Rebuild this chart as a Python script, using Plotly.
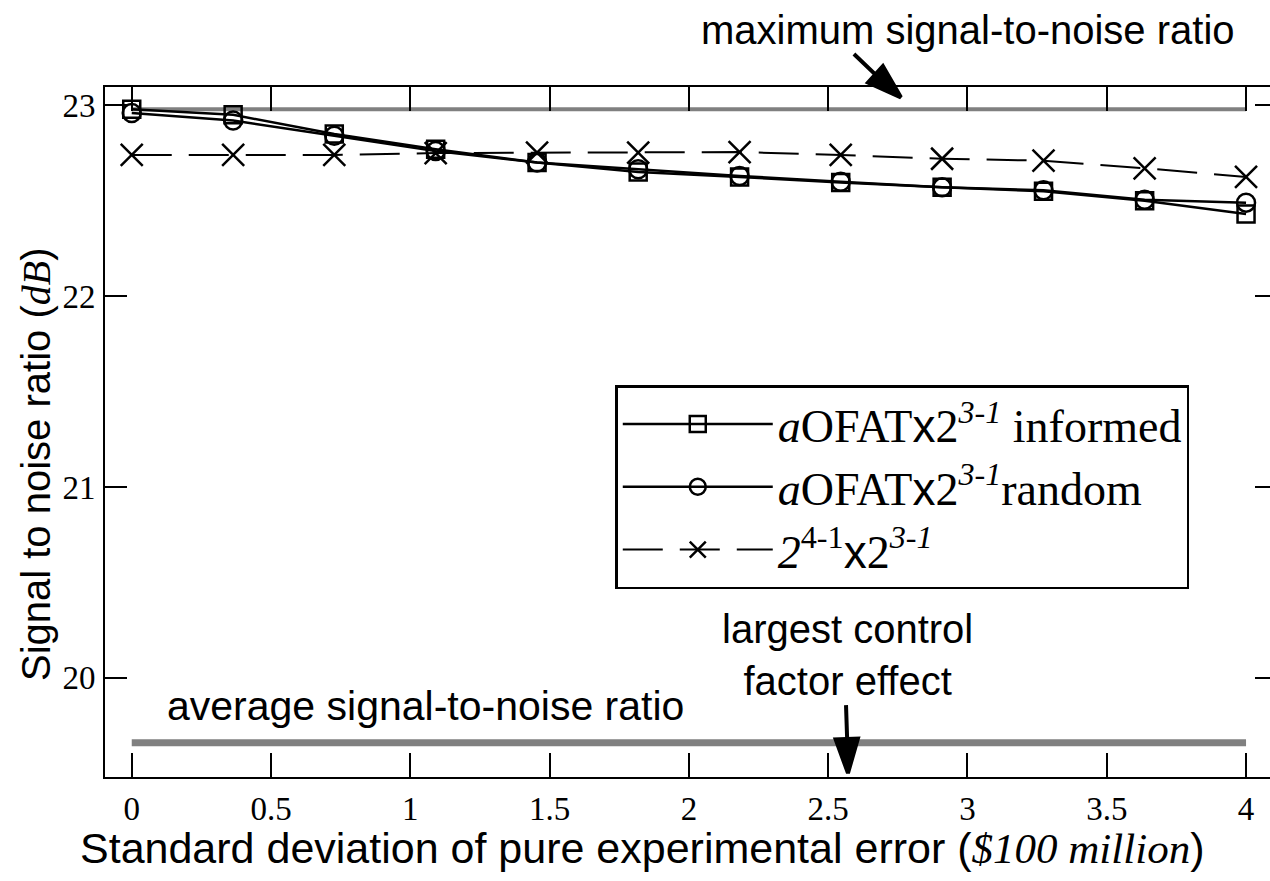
import plotly.graph_objects as go

# Pure experimental error standard deviation ($100 million)
sigma = [0, 0.364, 0.727, 1.091, 1.455, 1.818, 2.182, 2.545, 2.909, 3.273, 3.636, 4.0]

# Signal-to-noise ratio (dB) per strategy
snr_aofat_informed = [22.98, 22.95, 22.85, 22.77, 22.70, 22.65, 22.625, 22.595, 22.57, 22.55, 22.50, 22.43]
snr_aofat_random = [22.96, 22.92, 22.84, 22.76, 22.70, 22.665, 22.63, 22.60, 22.57, 22.555, 22.505, 22.49]
snr_fractional = [22.74, 22.74, 22.74, 22.75, 22.752, 22.752, 22.755, 22.74, 22.72, 22.71, 22.67, 22.625]

# Reference levels
snr_maximum = 22.98
snr_average = 19.66
largest_effect_sigma = 2.571

x_ticks = [0, 0.5, 1, 1.5, 2, 2.5, 3, 3.5, 4]
x_tick_text = ["0", "0.5", "1", "1.5", "2", "2.5", "3", "3.5", "4"]
y_ticks = [20, 21, 22, 23]
y_tick_text = ["20", "21", "22", "23"]

SANS = "Liberation Sans, Arial, sans-serif"
SERIF = "Liberation Serif, Times New Roman, serif"
X_SANS = "<span style='font-family:Liberation Sans'>x</span>"

fig = go.Figure()

# Horizontal reference lines
fig.add_trace(go.Scatter(
    x=[sigma[0], sigma[-1]], y=[snr_maximum, snr_maximum], mode="lines",
    line=dict(color="#808080", width=4), showlegend=False, hoverinfo="skip"))
fig.add_trace(go.Scatter(
    x=[sigma[0], sigma[-1]], y=[snr_average, snr_average], mode="lines",
    line=dict(color="#808080", width=7), showlegend=False, hoverinfo="skip"))

fig.add_trace(go.Scatter(
    x=sigma, y=snr_aofat_informed, mode="lines+markers",
    name="<i>a</i>OFAT" + X_SANS + "2<sup><i>3-1</i></sup> informed",
    line=dict(color="black", width=2.5),
    marker=dict(symbol="square-open", size=17, color="black", line=dict(width=2.5))))
fig.add_trace(go.Scatter(
    x=sigma, y=snr_aofat_random, mode="lines+markers",
    name="<i>a</i>OFAT" + X_SANS + "2<sup><i>3-1</i></sup>random",
    line=dict(color="black", width=2.5),
    marker=dict(symbol="circle-open", size=18, color="black", line=dict(width=2.5))))
fig.add_trace(go.Scatter(
    x=sigma, y=snr_fractional, mode="lines+markers",
    name="<i>2</i><sup>4-1</sup>" + X_SANS + "2<sup><i>3-1</i></sup>",
    line=dict(color="black", width=2, dash="40px,17px"),
    marker=dict(symbol="x-thin-open", size=22, color="black", line=dict(width=2.5, color="black"))))

# Arrow heads for the two callouts (tip sits on the point)
arrow_tip_x = [2.761, largest_effect_sigma]
arrow_tip_y = [23.042, 19.50]
arrow_angle = [132, 178]
fig.add_trace(go.Scatter(
    x=arrow_tip_x, y=arrow_tip_y, mode="markers", showlegend=False, hoverinfo="skip",
    cliponaxis=False,
    marker=dict(symbol="arrow", size=36, angle=arrow_angle, color="black",
                line=dict(width=4, color="black"))))

# carries the right-hand tick marks
fig.add_trace(go.Scatter(x=[], y=[], yaxis="y2", showlegend=False))

fig.update_layout(
    width=1270, height=881,
    margin=dict(l=105, r=0, t=87, b=104),
    paper_bgcolor="white", plot_bgcolor="white",
    showlegend=True,
    legend=dict(
        x=0.438, y=0.568, xanchor="left", yanchor="top",
        bgcolor="white", bordercolor="black", borderwidth=2.5,
        font=dict(family=SERIF, size=46, color="black"),
        itemwidth=150, tracegroupgap=0),
    xaxis=dict(
        range=[-0.096, 4.086], tickvals=x_ticks, ticktext=x_tick_text,
        ticks="inside", ticklen=24, tickwidth=2, tickcolor="black",
        showline=True, linewidth=2, linecolor="black", mirror="ticks",
        showgrid=False, zeroline=False, ticklabelstandoff=1,
        tickfont=dict(family=SERIF, size=33, color="black")),
    yaxis=dict(
        range=[19.48, 23.096], tickvals=y_ticks, ticktext=y_tick_text,
        ticks="inside", ticklen=22, tickwidth=2, tickcolor="black",
        showline=True, linewidth=2, linecolor="black", mirror=False,
        showgrid=False, zeroline=False, ticklabelstandoff=1,
        tickfont=dict(family=SERIF, size=33, color="black")),
    yaxis2=dict(
        overlaying="y", side="right", range=[19.48, 23.096], tickvals=y_ticks,
        ticks="inside", ticklen=15, tickwidth=2, tickcolor="black",
        showline=False, showticklabels=False, showgrid=False, zeroline=False),
)

annotations = [
    dict(text="maximum signal-to-noise ratio", x=0.741, y=1.0826, xref="paper", yref="paper",
         xanchor="center", yanchor="middle", showarrow=False,
         font=dict(family=SANS, size=40, color="black")),
    dict(text="", x=2.745, y=23.056, xref="x", yref="y", ax=-44, ay=-42,
         showarrow=True, arrowhead=0, arrowwidth=4, arrowcolor="black"),
    dict(text="largest control<br>factor effect", x=largest_effect_sigma, y=20.119,
         xref="x", yref="y", showarrow=False,
         font=dict(family=SANS, size=40, color="black")),
    dict(text="", x=largest_effect_sigma, y=19.55, xref="x", yref="y", ax=-2, ay=-60,
         showarrow=True, arrowhead=0, arrowwidth=4, arrowcolor="black"),
    dict(text="average signal-to-noise ratio", x=0.12, y=19.852, xref="x", yref="y",
         xanchor="left", showarrow=False, font=dict(family=SANS, size=41, color="black")),
    dict(text="Standard deviation of pure experimental error (<span style='font-family:Liberation Serif'><i>$100 million</i></span>)",
         x=0.461, y=-0.103, xref="paper", yref="paper", xanchor="center", yanchor="middle",
         showarrow=False, font=dict(family=SANS, size=43, color="black")),
    dict(text="Signal to noise ratio (<span style='font-family:Liberation Serif'><i>dB</i></span>)",
         x=-0.0592, y=0.4536, xref="paper", yref="paper", xanchor="center", yanchor="middle",
         textangle=-90, showarrow=False, font=dict(family=SANS, size=40, color="black")),
]
fig.update_layout(annotations=annotations)

fig.write_html("out.html")
